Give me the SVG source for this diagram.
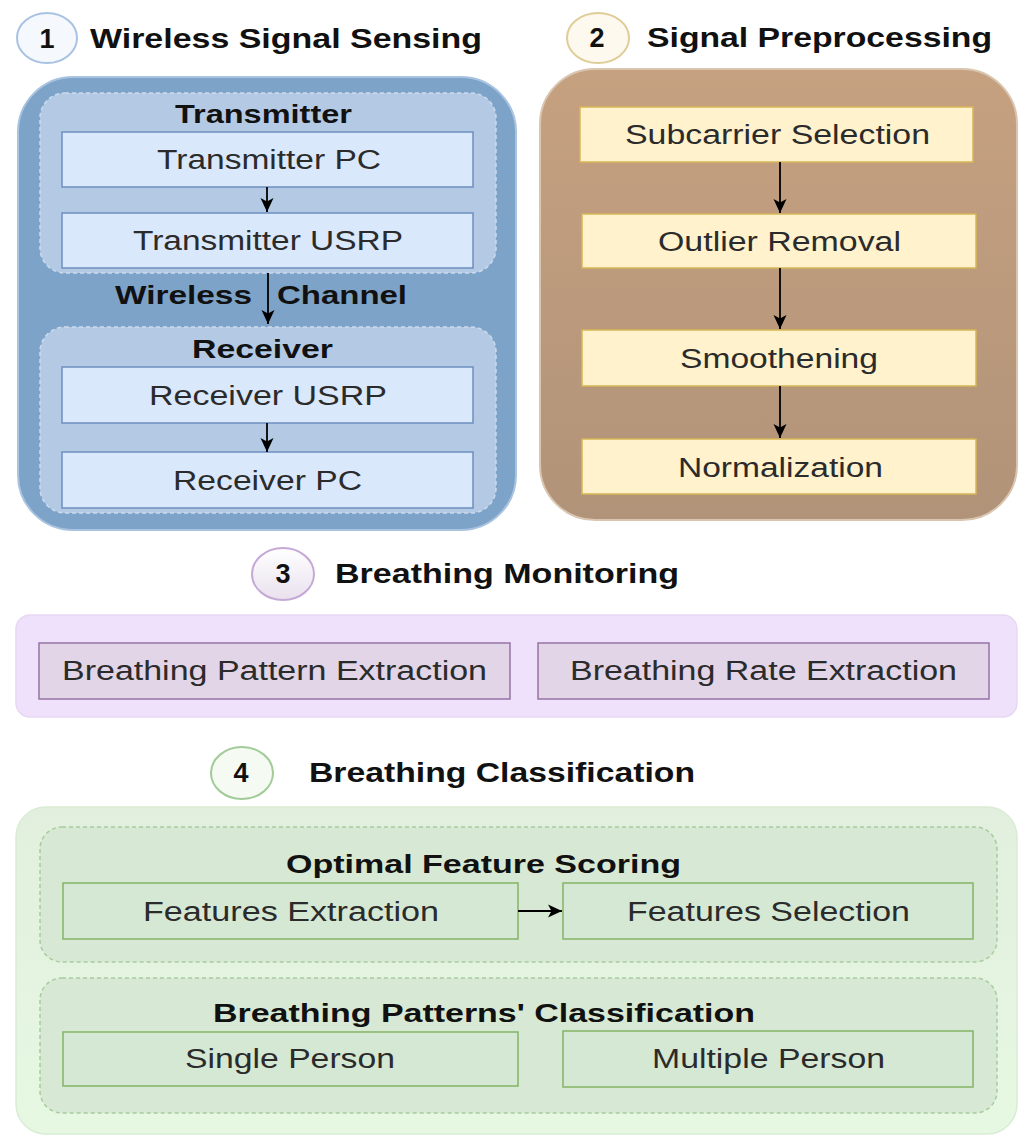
<svg xmlns="http://www.w3.org/2000/svg" width="1019" height="1136" viewBox="0 0 1019 1136">
<style>
text{font-family:"Liberation Sans",Arial,sans-serif;}
.t{font-size:27px;font-weight:bold;fill:#111;}
.g{font-size:25px;font-weight:bold;fill:#111;}
.b{font-size:27px;fill:#2b2b2b;}
.num{font-size:27px;font-weight:bold;fill:#111;text-anchor:middle;}
.bx1{fill:#dae8fc;stroke:#6c8ebf;stroke-width:1.5;}
.bx2{fill:#fff2cc;stroke:#d6b656;stroke-width:1.5;}
.bx3{fill:#e1d5e7;stroke:#9673a6;stroke-width:1.5;}
.bx4{fill:#d5e8d4;stroke:#82b366;stroke-width:1.5;}
.c{stroke:#000;stroke-width:1.8;fill:none;marker-end:url(#ah);}
</style>
<defs>
<marker id="ah" markerUnits="userSpaceOnUse" markerWidth="14" markerHeight="14" viewBox="0 0 14 14" refX="14" refY="7" orient="auto">
<path d="M0,0.5 L14,7 L0,13.5 L3.5,7 z" fill="#000"/>
</marker>
<linearGradient id="brown" x1="0" y1="0" x2="0" y2="1">
<stop offset="0" stop-color="#c6a180"/>
<stop offset="1" stop-color="#b19379"/>
</linearGradient>
<linearGradient id="green" x1="0" y1="0" x2="0" y2="1">
<stop offset="0" stop-color="#e2efde"/>
<stop offset="1" stop-color="#e6f8e2"/>
</linearGradient>
<linearGradient id="bd3" x1="0" y1="0" x2="0" y2="1">
<stop offset="0" stop-color="#ffffff"/>
<stop offset="1" stop-color="#e9e1ee"/>
</linearGradient>
</defs>

<g id="section1">
<ellipse cx="47" cy="38" rx="30" ry="25" fill="#f5f8fd" stroke="#a9c2e3" stroke-width="2"/>
<text class="num" x="47" y="48">1</text>
<text class="t" x="90" y="48" textLength="392" lengthAdjust="spacingAndGlyphs">Wireless Signal Sensing</text>
<rect x="18" y="77" width="498" height="453" rx="55" fill="#7ea3c9" stroke="#a9c4e0" stroke-width="2"/>
</g>
<g id="transmitter">
<rect x="40" y="93" width="456" height="180" rx="25" fill="#b4cae4" stroke="#cbdbee" stroke-width="1.5" stroke-dasharray="4 3"/>
<text class="g" x="175" y="123" textLength="177" lengthAdjust="spacingAndGlyphs">Transmitter</text>
</g>
<g id="transmitter-pc">
<rect class="bx1" x="62" y="132" width="411" height="55"/>
<text class="b" x="157" y="169" textLength="224" lengthAdjust="spacingAndGlyphs">Transmitter PC</text>
</g>
<g id="transmitter-usrp">
<rect class="bx1" x="62" y="213" width="411" height="55"/>
<text class="b" x="133" y="250" textLength="270" lengthAdjust="spacingAndGlyphs">Transmitter USRP</text>
</g>
<g id="wireless-channel">
<text class="g" x="115" y="304" textLength="137" lengthAdjust="spacingAndGlyphs">Wireless</text>
<text class="g" x="277" y="304" textLength="130" lengthAdjust="spacingAndGlyphs">Channel</text>
</g>
<g id="receiver">
<rect x="40" y="327" width="456" height="186" rx="25" fill="#b4cae4" stroke="#cbdbee" stroke-width="1.5" stroke-dasharray="4 3"/>
<text class="g" x="192" y="358" textLength="141" lengthAdjust="spacingAndGlyphs">Receiver</text>
</g>
<g id="receiver-usrp">
<rect class="bx1" x="62" y="367" width="411" height="56"/>
<text class="b" x="149" y="405" textLength="238" lengthAdjust="spacingAndGlyphs">Receiver USRP</text>
</g>
<g id="receiver-pc">
<rect class="bx1" x="62" y="452" width="411" height="56"/>
<text class="b" x="173" y="490" textLength="189" lengthAdjust="spacingAndGlyphs">Receiver PC</text>
</g>

<g id="section2">
<ellipse cx="598" cy="38" rx="31" ry="25" fill="#fdf9ef" stroke="#dfcd98" stroke-width="2"/>
<text class="num" x="597" y="47">2</text>
<text class="t" x="647" y="47" textLength="345" lengthAdjust="spacingAndGlyphs">Signal Preprocessing</text>
<rect x="540" y="69" width="477" height="451" rx="55" fill="url(#brown)" stroke="#d9c5b0" stroke-width="2"/>
</g>
<g id="subcarrier-selection">
<rect class="bx2" x="580" y="107" width="393" height="55"/>
<text class="b" x="625" y="144" textLength="305" lengthAdjust="spacingAndGlyphs">Subcarrier Selection</text>
</g>
<g id="outlier-removal">
<rect class="bx2" x="582" y="214" width="394" height="54"/>
<text class="b" x="658" y="251" textLength="243" lengthAdjust="spacingAndGlyphs">Outlier Removal</text>
</g>
<g id="smoothening">
<rect class="bx2" x="582" y="330" width="394" height="56"/>
<text class="b" x="680" y="368" textLength="198" lengthAdjust="spacingAndGlyphs">Smoothening</text>
</g>
<g id="normalization">
<rect class="bx2" x="582" y="439" width="394" height="55"/>
<text class="b" x="678" y="477" textLength="205" lengthAdjust="spacingAndGlyphs">Normalization</text>
</g>

<g id="section3">
<ellipse cx="283" cy="574" rx="31" ry="26" fill="url(#bd3)" stroke="#c6a9d6" stroke-width="2"/>
<text class="num" x="283" y="583">3</text>
<text class="t" x="335" y="583" textLength="344" lengthAdjust="spacingAndGlyphs">Breathing Monitoring</text>
<rect x="16" y="615" width="1001" height="102" rx="14" fill="#efe1fb" stroke="#e7d8f3" stroke-width="1.5"/>
</g>
<g id="breathing-pattern-extraction">
<rect class="bx3" x="39" y="643" width="471" height="56"/>
<text class="b" x="62" y="680" textLength="425" lengthAdjust="spacingAndGlyphs">Breathing Pattern Extraction</text>
</g>
<g id="breathing-rate-extraction">
<rect class="bx3" x="538" y="643" width="451" height="56"/>
<text class="b" x="570" y="680" textLength="387" lengthAdjust="spacingAndGlyphs">Breathing Rate Extraction</text>
</g>

<g id="section4">
<ellipse cx="242" cy="773" rx="31" ry="26" fill="#f5fbf3" stroke="#a1cb97" stroke-width="2"/>
<text class="num" x="241" y="782">4</text>
<text class="t" x="309" y="782" textLength="386" lengthAdjust="spacingAndGlyphs">Breathing Classification</text>
<rect x="16" y="807" width="1001" height="327" rx="30" fill="url(#green)" stroke="#d9ecd4" stroke-width="1.5"/>
</g>
<g id="optimal-feature-scoring">
<rect x="40" y="827" width="957" height="135" rx="22" fill="#d7e9d4" stroke="#a8cc9e" stroke-width="1.5" stroke-dasharray="4 3"/>
<text class="g" x="286" y="873" textLength="395" lengthAdjust="spacingAndGlyphs">Optimal Feature Scoring</text>
</g>
<g id="features-extraction">
<rect class="bx4" x="63" y="883" width="455" height="56"/>
<text class="b" x="143" y="921" textLength="296" lengthAdjust="spacingAndGlyphs">Features Extraction</text>
</g>
<g id="features-selection">
<rect class="bx4" x="563" y="883" width="410" height="56"/>
<text class="b" x="627" y="921" textLength="283" lengthAdjust="spacingAndGlyphs">Features Selection</text>
</g>
<g id="breathing-patterns-classification">
<rect x="40" y="978" width="957" height="135" rx="22" fill="#d7e9d4" stroke="#a8cc9e" stroke-width="1.5" stroke-dasharray="4 3"/>
<text class="g" x="213" y="1022" textLength="542" lengthAdjust="spacingAndGlyphs">Breathing Patterns' Classification</text>
</g>
<g id="single-person">
<rect class="bx4" x="63" y="1032" width="455" height="54"/>
<text class="b" x="185" y="1068" textLength="210" lengthAdjust="spacingAndGlyphs">Single Person</text>
</g>
<g id="multiple-person">
<rect class="bx4" x="563" y="1031" width="410" height="56"/>
<text class="b" x="652" y="1068" textLength="233" lengthAdjust="spacingAndGlyphs">Multiple Person</text>
</g>

<g id="connectors">
<line class="c" x1="267" y1="187" x2="267" y2="212"/>
<line class="c" x1="268" y1="273" x2="268" y2="324"/>
<line class="c" x1="267" y1="423" x2="267" y2="452"/>
<line class="c" x1="780" y1="162" x2="780" y2="213"/>
<line class="c" x1="780" y1="268" x2="780" y2="329"/>
<line class="c" x1="780" y1="386" x2="780" y2="438"/>
<line class="c" x1="518" y1="911" x2="562" y2="911"/>
</g>
</svg>
